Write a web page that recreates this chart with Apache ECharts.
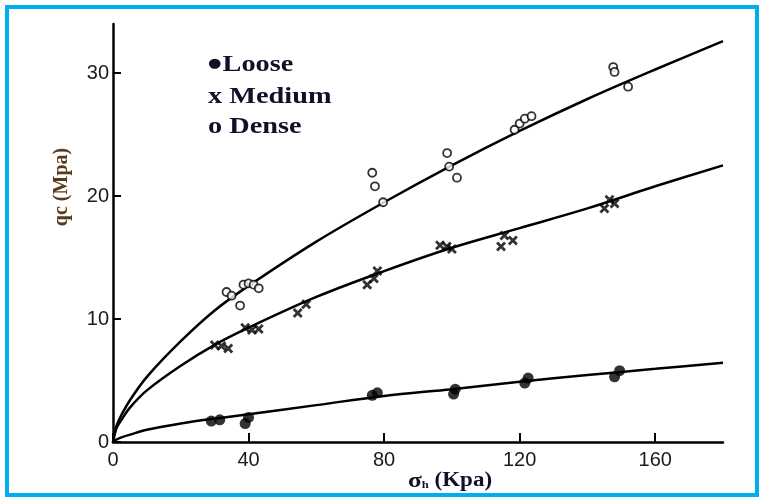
<!DOCTYPE html>
<html>
<head>
<meta charset="utf-8">
<script src="https://cdn.jsdelivr.net/npm/echarts@6/dist/echarts.min.js"></script>
<style>
  html, body { margin: 0; padding: 0; background: #fff; }
  #chart { width: 766px; height: 502px; }
</style>
</head>
<body>
<div id="chart"></div>
<script>
// Cone resistance qc (MPa) against horizontal stress σh (kPa) for three sand densities.

// Measured points: loose sand
const looseSigma = [29, 31.5, 39, 40, 76.5, 78, 100.5, 101, 121.5, 122.5, 148, 149.5];
const looseQc    = [1.7, 1.8, 1.5, 2.0, 3.8, 4.0, 3.9, 4.3, 4.8, 5.2, 5.3, 5.8];

// Measured points: medium sand
const mediumSigma = [30, 32, 34, 39, 41, 43, 54.5, 57, 75, 77, 78, 96.5, 98.5, 100, 114.5, 115.5, 118, 145, 146.5, 148];
const mediumQc    = [7.9, 7.8, 7.6, 9.3, 9.1, 9.2, 10.5, 11.2, 12.8, 13.3, 13.9, 16.0, 15.9, 15.7, 15.9, 16.8, 16.4, 19.0, 19.7, 19.4];

// Measured points: dense sand
const denseSigma = [33.5, 35, 37.5, 38.5, 40, 41.5, 43, 76.5, 77.3, 79.7, 98.6, 99.2, 101.5, 118.5, 120, 121.5, 123.5, 147.6, 148, 152];
const denseQc    = [12.2, 11.9, 11.1, 12.8, 12.9, 12.8, 12.5, 21.9, 20.8, 19.5, 23.5, 22.4, 21.5, 25.4, 25.9, 26.3, 26.5, 30.5, 30.1, 28.9];

// Trend curves drawn through each group
const curveSigma    = [0, 1, 2.5, 5, 10, 20, 30, 40, 60, 80, 100, 120, 140, 160, 180];
const looseCurveQc  = [0, 0.2, 0.38, 0.6, 1.0, 1.5, 1.9, 2.25, 3.0, 3.75, 4.3, 4.9, 5.45, 5.95, 6.45];
const mediumCurveQc = [0, 1.1, 1.8, 2.8, 4.2, 6.2, 7.9, 9.3, 11.8, 13.9, 15.8, 17.4, 19.0, 20.8, 22.5];
const denseCurveQc  = [0, 1.3, 2.2, 3.4, 5.3, 8.2, 10.7, 12.7, 16.3, 19.5, 22.5, 25.3, 27.9, 30.3, 32.6];

// Axis tick values
const xTicks = [0, 40, 80, 120, 160];
const yTicks = [0, 10, 20, 30];

const pairs = (xs, ys) => xs.map((x, i) => [x, ys[i]]);

// bold "x" marker outline
const crossPath = 'path://M0,2L2,0L5,3L8,0L10,2L7,5L10,8L8,10L5,7L2,10L0,8L3,5Z';

const tickFont = { fontFamily: 'Liberation Sans, Arial, sans-serif', fontSize: 20, color: '#1a1a1a' };
const serif = 'Liberation Serif, Times New Roman, serif';

const curve = (data) => ({
  type: 'line',
  data: data,
  symbol: 'none',
  smooth: 0.35,
  silent: true,
  z: 2,
  lineStyle: { color: '#000', width: 2.5 }
});

const chart = echarts.init(document.getElementById('chart'), null, { renderer: 'canvas' });

chart.setOption({
  animation: false,
  backgroundColor: '#fff',
  grid: { left: 113, right: 43, top: 24, bottom: 60, containLabel: false },
  xAxis: {
    type: 'value',
    min: 0, max: 180, interval: 40,
    axisLine: { show: true, onZero: false, lineStyle: { color: '#000', width: 2.5 } },
    // negative length turns the custom ticks toward the plot area
    axisTick: { show: true, inside: false, length: -9, customValues: xTicks, lineStyle: { color: '#000', width: 2 } },
    axisLabel: Object.assign({ margin: 8, customValues: xTicks }, tickFont),
    splitLine: { show: false }
  },
  yAxis: {
    type: 'value',
    min: 0, max: 34, interval: 10,
    axisLine: { show: true, onZero: false, lineStyle: { color: '#000', width: 2.5 } },
    axisTick: { show: true, inside: false, length: -8, customValues: yTicks, lineStyle: { color: '#000', width: 2 } },
    axisLabel: Object.assign({ margin: 4, customValues: yTicks }, tickFont),
    splitLine: { show: false }
  },
  series: [
    curve(pairs(curveSigma, looseCurveQc)),
    curve(pairs(curveSigma, mediumCurveQc)),
    curve(pairs(curveSigma, denseCurveQc)),
    {
      name: 'Loose', type: 'scatter', z: 3,
      data: pairs(looseSigma, looseQc),
      symbol: 'circle', symbolSize: 11,
      itemStyle: { color: '#000' }
    },
    {
      name: 'Medium', type: 'scatter', z: 3,
      data: pairs(mediumSigma, mediumQc),
      symbol: crossPath, symbolSize: 10,
      itemStyle: { color: '#000' }
    },
    {
      name: 'Dense', type: 'scatter', z: 3,
      data: pairs(denseSigma, denseQc),
      symbol: 'circle', symbolSize: 8,
      itemStyle: { color: '#fff', borderColor: '#000', borderWidth: 1.8 }
    }
  ],
  graphic: [
    {
      type: 'rect', silent: true, z: 100,
      shape: { x: 7, y: 7, width: 750, height: 488 },
      style: { fill: 'none', stroke: '#00AEEF', lineWidth: 4 }
    },
    {
      type: 'text', x: 208, y: 65, scaleX: 1.18, z: 50,
      style: {
        text: '{d|●}{t|Loose}', verticalAlign: 'middle', align: 'left',
        rich: {
          d: { fontSize: 13, fontFamily: 'DejaVu Sans, sans-serif', fill: '#10102a', padding: [0, 1, 2, 0] },
          t: { fontSize: 24, fontWeight: 'bold', fontFamily: serif, fill: '#10102a' }
        }
      }
    },
    {
      type: 'text', x: 208, y: 97, scaleX: 1.18, z: 50,
      style: { text: 'x Medium', fontSize: 24, fontWeight: 'bold', fontFamily: serif, fill: '#10102a', verticalAlign: 'middle', align: 'left' }
    },
    {
      type: 'text', x: 208, y: 127, scaleX: 1.18, z: 50,
      style: { text: 'o Dense', fontSize: 24, fontWeight: 'bold', fontFamily: serif, fill: '#10102a', verticalAlign: 'middle', align: 'left' }
    },
    {
      type: 'text', x: 408, y: 481, scaleX: 1.15, z: 50,
      style: {
        text: '{s|σ}{h|h}{n| (Kpa)}', verticalAlign: 'middle', align: 'left',
        rich: {
          s: { fontSize: 22, fontWeight: 'bold', fontFamily: serif, fill: '#10102a' },
          h: { fontSize: 11, fontWeight: 'bold', fontFamily: serif, fill: '#10102a', padding: [8, 0, 0, 0] },
          n: { fontSize: 20, fontWeight: 'bold', fontFamily: serif, fill: '#10102a' }
        }
      }
    },
    {
      type: 'text', x: 62, y: 187, rotation: Math.PI / 2, z: 50,
      style: { text: 'qc (Mpa)', fontSize: 20, fontWeight: 'bold', fontFamily: serif, fill: '#5a3a1c', verticalAlign: 'middle', align: 'center' }
    }
  ]
});
</script>
</body>
</html>
